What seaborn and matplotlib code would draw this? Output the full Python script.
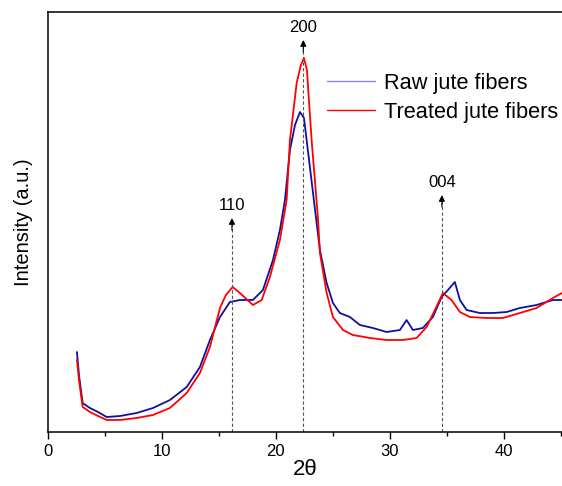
import seaborn as sns
import matplotlib.pyplot as plt
import pandas as pd
from matplotlib.ticker import MultipleLocator

# 2theta (deg) and intensity (a.u.)
raw_theta = [2.54, 2.72, 3.04, 3.68, 4.39, 5.15, 6.32, 7.78, 9.21, 10.70, 12.17,
             13.33, 14.21, 15.09, 15.96, 16.84, 17.98, 18.86, 19.74, 20.35, 20.79,
             21.23, 21.67, 22.11, 22.46, 22.98, 23.57, 23.86, 24.45, 25.00, 25.61,
             26.49, 27.37, 28.51, 29.71, 30.88, 31.46, 32.02, 32.89, 33.77, 34.54,
             35.09, 35.70, 36.14, 36.73, 37.89, 39.04, 40.24, 41.40, 42.87, 44.30, 45.09]
raw_int = [80, 57, 29, 24, 20, 15, 16, 19, 24, 32, 45,
           65, 92, 115, 130, 132, 132, 142, 172, 202, 232,
           282, 307, 320, 314, 265, 209, 182, 149, 129, 119,
           115, 107, 104, 100, 102, 112, 102, 104, 115, 135,
           142, 150, 132, 122, 119, 119, 120, 124, 127, 132, 132]

treated_theta = [2.54, 2.72, 3.04, 3.68, 4.39, 5.15, 6.32, 7.78, 9.21, 10.70, 12.17,
                 13.33, 14.21, 15.09, 15.61, 16.20, 16.84, 17.98, 18.75, 19.47, 20.35,
                 20.94, 21.23, 21.82, 22.19, 22.46, 22.72, 23.13, 23.68, 23.86, 24.45,
                 25.00, 25.88, 26.75, 28.25, 29.71, 31.14, 32.34, 33.22, 33.95, 34.65,
                 35.41, 36.14, 37.02, 38.48, 39.91, 41.40, 42.87, 44.30, 45.09]
treated_int = [72, 52, 25, 20, 16, 12, 12, 14, 17, 24, 39,
               59, 85, 124, 137, 145, 139, 127, 132, 155, 192,
               232, 292, 349, 367, 374, 362, 292, 215, 179, 139,
               115, 102, 97, 94, 92, 92, 94, 105, 122, 139,
               132, 120, 115, 114, 114, 119, 124, 134, 139]

peak_labels = ['110', '200', '004']
peak_pos = [16.14, 22.4, 34.56]
peak_tip = [214, 392, 237]

df = pd.concat([
    pd.DataFrame({'theta': raw_theta, 'intensity': raw_int, 'sample': 'Raw jute fibers'}),
    pd.DataFrame({'theta': treated_theta, 'intensity': treated_int, 'sample': 'Treated jute fibers'}),
])

sns.set_style('ticks')
plt.rcParams['font.family'] = ['Liberation Sans', 'DejaVu Sans']
plt.rcParams.update({'text.color': 'black', 'axes.labelcolor': 'black',
                     'xtick.color': 'black', 'axes.edgecolor': 'black'})

fig = plt.figure(figsize=(5.62, 4.86), dpi=100)
ax = fig.add_axes([0.0854, 0.1111, 0.9146, 0.8642])

sns.lineplot(data=df, x='theta', y='intensity', hue='sample', sort=False,
             palette={'Raw jute fibers': '#1010a0', 'Treated jute fibers': '#ff0000'},
             linewidth=1.3, ax=ax)

for lab, x, tip in zip(peak_labels, peak_pos, peak_tip):
    ax.plot([x, x], [0, tip - 6], color='#555555', linestyle=(0, (3, 2)), linewidth=0.8)
    ax.annotate('', xy=(x, tip), xytext=(x, tip - 12),
                arrowprops=dict(arrowstyle='-|>', color='black', lw=0.8,
                                mutation_scale=9, shrinkA=0, shrinkB=0))
    ax.text(x, tip + 5, lab, ha='center', va='bottom', fontsize=12)

ax.set_xlim(0, 45.1)
ax.set_ylim(0, 420)
ax.set_yticks([])
ax.xaxis.set_major_locator(MultipleLocator(10))
ax.xaxis.set_minor_locator(MultipleLocator(5))
ax.tick_params(axis='x', which='major', length=5, width=1, labelsize=12)
ax.tick_params(axis='x', which='minor', length=3, width=1)
for s in ['left', 'top', 'bottom']:
    ax.spines[s].set_linewidth(1.1)
ax.spines['right'].set_visible(False)

ax.set_xlabel('2θ', fontsize=16, labelpad=0)
ax.set_ylabel('Intensity (a.u.)', fontsize=14.5, labelpad=11)

leg = ax.legend(loc='upper right', bbox_to_anchor=(1.0, 0.865), frameon=False,
                fontsize=15.7, handlelength=2.2, labelspacing=0.35, handletextpad=0.4,
                borderaxespad=0.0, borderpad=0.2)
for h in leg.get_lines():
    h.set_linewidth(1.0)
leg.get_lines()[0].set_alpha(0.5)

fig.savefig('out.png', dpi=100)
